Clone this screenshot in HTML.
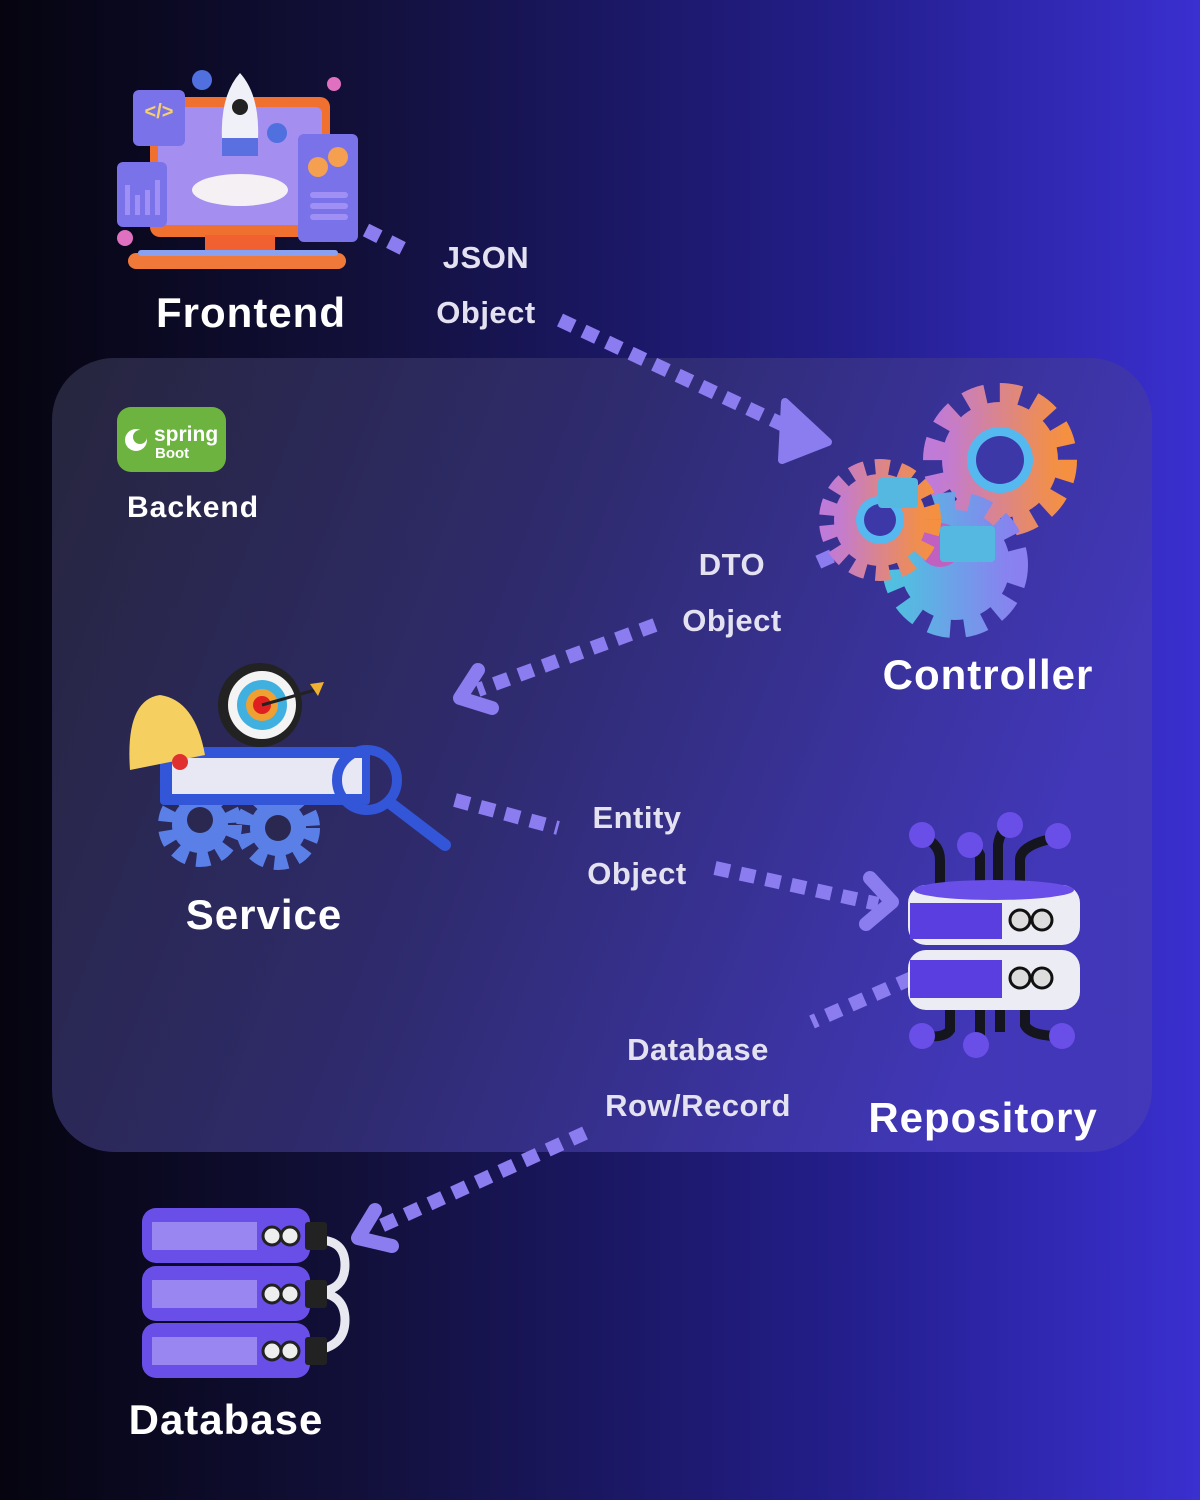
<!DOCTYPE html>
<html><head><meta charset="utf-8"><style>
html,body{margin:0;padding:0;}
body{width:1200px;height:1500px;overflow:hidden;}
text{font-family:"Liberation Sans",sans-serif;font-weight:bold;}
.big{letter-spacing:1px;}
.lbl{letter-spacing:0.5px;}
</style></head><body>
<svg width="1200" height="1500" viewBox="0 0 1200 1500" xmlns="http://www.w3.org/2000/svg">
<defs>
<linearGradient id="bg" x1="0" y1="0" x2="1" y2="0">
<stop offset="0" stop-color="#05040f"/><stop offset="0.3" stop-color="#12103a"/><stop offset="0.7" stop-color="#231e8a"/><stop offset="1" stop-color="#3a2fd0"/>
</linearGradient>
<linearGradient id="panel" x1="0" y1="0" x2="1" y2="0.3">
<stop offset="0" stop-color="#28273f"/><stop offset="0.5" stop-color="#302c70"/><stop offset="1" stop-color="#4238b8"/>
</linearGradient>
<linearGradient id="gearA" x1="0" y1="0" x2="1" y2="0"><stop offset="0" stop-color="#c07ad8"/><stop offset="1" stop-color="#f59040"/></linearGradient>
<linearGradient id="gearB" x1="0" y1="0" x2="1" y2="0"><stop offset="0" stop-color="#50c0e0"/><stop offset="1" stop-color="#8a80f0"/></linearGradient>
</defs>
<rect width="1200" height="1500" fill="url(#bg)"/>
<rect x="52" y="358" width="1100" height="794" rx="62" fill="url(#panel)" opacity="0.95"/>

<g stroke="#8b7cf0" stroke-width="14" stroke-dasharray="15 11" fill="none">
<line x1="366" y1="230" x2="410" y2="252"/>
<line x1="560" y1="320" x2="790" y2="428"/>
<line x1="832" y1="556" x2="812" y2="565"/>
<line x1="655" y1="625" x2="478" y2="690"/>
<line x1="455" y1="800" x2="558" y2="828"/>
<line x1="715" y1="868" x2="878" y2="904"/>
<line x1="912" y1="978" x2="812" y2="1022"/>
<line x1="585" y1="1133" x2="372" y2="1230"/>
</g>
<polygon points="785,402 828,442 782,460" fill="#8b7cf0" stroke="#8b7cf0" stroke-width="8" stroke-linejoin="round"/>
<g stroke="#8b7cf0" stroke-width="14" fill="none" stroke-linecap="round" stroke-linejoin="round">
<polyline points="478,670 460,698 492,708"/>
<polyline points="870,878 892,902 866,924"/>
<polyline points="375,1210 358,1238 392,1246"/>
</g>

<g fill="#e4e2f0" font-size="31" text-anchor="middle" class="lbl">
<text x="486" y="268">JSON</text><text x="486" y="323">Object</text>
<text x="732" y="575">DTO</text><text x="732" y="631">Object</text>
<text x="637" y="828">Entity</text><text x="637" y="884">Object</text>
<text x="698" y="1060">Database</text><text x="698" y="1116">Row/Record</text>
</g>
<g fill="#ffffff" text-anchor="middle" class="big">
<text x="251" y="327" font-size="42">Frontend</text>
<text x="193" y="517" font-size="30">Backend</text>
<text x="988" y="689" font-size="42">Controller</text>
<text x="264" y="929" font-size="42">Service</text>
<text x="983" y="1132" font-size="42">Repository</text>
<text x="226" y="1434" font-size="42">Database</text>
</g>

<rect x="117" y="407" width="109" height="65" rx="14" fill="#6db33f"/>
<circle cx="136" cy="440" r="11" fill="#fff"/><circle cx="140" cy="437" r="7" fill="#6db33f"/>
<text x="154" y="441" font-size="21" fill="#fff" font-weight="normal">spring</text>
<text x="155" y="458" font-size="15" fill="#fff" font-weight="normal">Boot</text>

<rect x="150" y="97" width="180" height="140" rx="10" fill="#f07030"/>
<rect x="158" y="107" width="164" height="118" rx="6" fill="#a48ef0"/>
<rect x="205" y="235" width="70" height="25" fill="#f06030"/>
<rect x="128" y="253" width="218" height="16" rx="8" fill="#f07838"/>
<g fill="#8aa0f0"><rect x="138" y="250" width="200" height="6" rx="3"/></g>
<rect x="133" y="90" width="52" height="56" rx="6" fill="#7a72e8"/>
<text x="159" y="118" font-size="20" fill="#f5d070" text-anchor="middle">&lt;/&gt;</text>
<rect x="117" y="162" width="50" height="65" rx="6" fill="#7a72e8"/>
<g fill="#a090f5"><rect x="125" y="185" width="5" height="30"/><rect x="135" y="195" width="5" height="20"/><rect x="145" y="190" width="5" height="25"/><rect x="155" y="180" width="5" height="35"/></g>
<rect x="298" y="134" width="60" height="108" rx="6" fill="#7a72e8"/>
<circle cx="318" cy="167" r="10" fill="#f5a050"/><circle cx="338" cy="157" r="10" fill="#f5a050"/>
<g fill="#a090f5"><rect x="310" y="192" width="38" height="6" rx="3"/><rect x="310" y="203" width="38" height="6" rx="3"/><rect x="310" y="214" width="38" height="6" rx="3"/></g>
<path d="M240 73 Q260 95 258 140 L222 140 Q220 95 240 73Z" fill="#f0f0f8"/>
<circle cx="240" cy="107" r="8" fill="#222"/>
<rect x="222" y="138" width="36" height="18" fill="#5a70e0"/>
<ellipse cx="240" cy="190" rx="48" ry="16" fill="#f4f0f4"/>
<circle cx="202" cy="80" r="10" fill="#5070e0"/><circle cx="277" cy="133" r="10" fill="#5070e0"/>
<circle cx="334" cy="84" r="7" fill="#e070c0"/><circle cx="125" cy="238" r="8" fill="#e070c0"/>

<circle cx="1000" cy="460" r="65" fill="none" stroke="url(#gearA)" stroke-width="24" stroke-dasharray="20 14"/>
<circle cx="1000" cy="460" r="58" fill="url(#gearA)"/>
<circle cx="1000" cy="460" r="33" fill="#55b8ee"/><circle cx="1000" cy="460" r="24" fill="#3d38a8"/>
<circle cx="955" cy="565" r="62" fill="none" stroke="url(#gearB)" stroke-width="22" stroke-dasharray="20 14"/>
<circle cx="955" cy="565" r="55" fill="url(#gearB)"/>
<circle cx="940" cy="545" r="22" fill="#c060c0"/>
<circle cx="880" cy="520" r="52" fill="none" stroke="url(#gearA)" stroke-width="18" stroke-dasharray="14 10"/>
<circle cx="880" cy="520" r="46" fill="url(#gearA)"/>
<circle cx="880" cy="520" r="24" fill="#55b8ee"/><circle cx="880" cy="520" r="16" fill="#3d38a8"/>
<rect x="878" y="478" width="40" height="30" rx="4" fill="#55b8e0"/>
<rect x="940" y="526" width="55" height="36" rx="4" fill="#55b8e0"/>

<circle cx="200" cy="825" r="34" fill="none" stroke="#5a80e8" stroke-width="16" stroke-dasharray="13 9"/>
<circle cx="200" cy="825" r="28" fill="#5a80e8"/><circle cx="200" cy="820" r="13" fill="#2a2850"/>
<circle cx="278" cy="828" r="34" fill="none" stroke="#5a80e8" stroke-width="16" stroke-dasharray="13 9"/>
<circle cx="278" cy="828" r="28" fill="#5a80e8"/><circle cx="278" cy="828" r="13" fill="#2a2850"/>
<rect x="160" y="747" width="210" height="58" rx="4" fill="#3355d8"/>
<rect x="172" y="758" width="190" height="36" fill="#e8e8f4"/>
<circle cx="260" cy="705" r="42" fill="#222"/><circle cx="262" cy="705" r="34" fill="#f4f4f4"/>
<circle cx="262" cy="705" r="25" fill="#40b0e0"/><circle cx="262" cy="705" r="16" fill="#f0a030"/><circle cx="262" cy="705" r="9" fill="#e02020"/>
<line x1="262" y1="705" x2="315" y2="690" stroke="#222" stroke-width="3"/><polygon points="310,684 324,682 318,696" fill="#f0b030"/>
<path d="M130 770 Q125 700 160 695 Q195 700 205 755 Z" fill="#f5d060"/>
<circle cx="180" cy="762" r="8" fill="#e03030"/>
<circle cx="367" cy="780" r="30" fill="none" stroke="#3355d8" stroke-width="10"/>
<line x1="390" y1="803" x2="445" y2="845" stroke="#3355d8" stroke-width="12" stroke-linecap="round"/>

<g stroke="#151520" stroke-width="10" fill="none">
<path d="M940 895 V860 Q940 845 925 838"/><path d="M980 895 V855 Q975 845 970 845"/><path d="M998 895 V845 Q1000 830 1010 826"/><path d="M1020 895 V860 Q1020 845 1055 838"/>
<path d="M950 1010 V1030 Q945 1038 925 1036"/><path d="M980 1010 V1040"/><path d="M1000 1010 V1032"/><path d="M1025 1010 V1025 Q1030 1036 1060 1036"/>
</g>
<g fill="#6a4ee8"><circle cx="922" cy="835" r="13"/><circle cx="970" cy="845" r="13"/><circle cx="1010" cy="825" r="13"/><circle cx="1058" cy="836" r="13"/>
<circle cx="922" cy="1036" r="13"/><circle cx="976" cy="1045" r="13"/><circle cx="1062" cy="1036" r="13"/></g>
<rect x="908" y="885" width="172" height="60" rx="18" fill="#ececf4"/>
<ellipse cx="994" cy="890" rx="80" ry="10" fill="#6a4ee8"/>
<rect x="910" y="903" width="92" height="36" fill="#5a3ee0"/>
<circle cx="1020" cy="920" r="10" fill="#ddd" stroke="#111" stroke-width="3"/><circle cx="1042" cy="920" r="10" fill="#ddd" stroke="#111" stroke-width="3"/>
<rect x="908" y="950" width="172" height="60" rx="18" fill="#ececf4"/>
<rect x="910" y="960" width="92" height="38" fill="#5a3ee0"/>
<circle cx="1020" cy="978" r="10" fill="#ddd" stroke="#111" stroke-width="3"/><circle cx="1042" cy="978" r="10" fill="#ddd" stroke="#111" stroke-width="3"/>

<path d="M318 1240 Q345 1240 345 1265 Q345 1290 318 1292 Q345 1295 345 1320 Q345 1345 318 1350" stroke="#e8e8f0" stroke-width="9" fill="none"/>
<g>
<rect x="142" y="1208" width="168" height="55" rx="14" fill="#6a4ee8"/>
<rect x="152" y="1222" width="105" height="28" fill="#9a86f0"/>
<circle cx="272" cy="1236" r="9" fill="#eee" stroke="#222" stroke-width="3"/><circle cx="290" cy="1236" r="9" fill="#eee" stroke="#222" stroke-width="3"/>
<rect x="305" y="1222" width="22" height="28" rx="3" fill="#222"/>
<rect x="142" y="1266" width="168" height="55" rx="14" fill="#6a4ee8"/>
<rect x="152" y="1280" width="105" height="28" fill="#9a86f0"/>
<circle cx="272" cy="1294" r="9" fill="#eee" stroke="#222" stroke-width="3"/><circle cx="290" cy="1294" r="9" fill="#eee" stroke="#222" stroke-width="3"/>
<rect x="305" y="1280" width="22" height="28" rx="3" fill="#222"/>
<rect x="142" y="1323" width="168" height="55" rx="14" fill="#6a4ee8"/>
<rect x="152" y="1337" width="105" height="28" fill="#9a86f0"/>
<circle cx="272" cy="1351" r="9" fill="#eee" stroke="#222" stroke-width="3"/><circle cx="290" cy="1351" r="9" fill="#eee" stroke="#222" stroke-width="3"/>
<rect x="305" y="1337" width="22" height="28" rx="3" fill="#222"/>
</g>
</svg>
</body></html>
